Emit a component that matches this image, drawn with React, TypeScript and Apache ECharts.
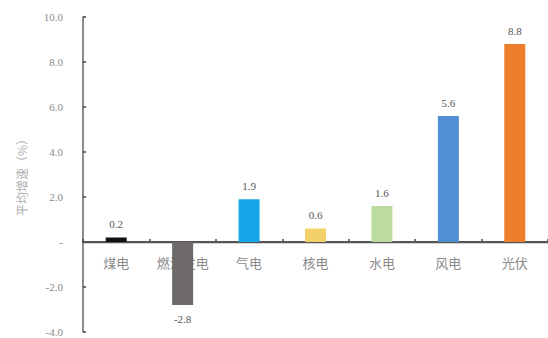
import React, { useEffect, useRef } from "react";
import * as echarts from "echarts";

const categories = ["煤电", "燃油发电", "气电", "核电", "水电", "风电", "光伏"];
const values = [0.2, -2.8, 1.9, 0.6, 1.6, 5.6, 8.8];
const barColors = ["#111111", "#6e6a6a", "#14a6e6", "#f3d068", "#bcdba0", "#4f8fd2", "#ee7d2c"];
const yAxisName = "平均增速（%）";
const yMin = -4;
const yMax = 10;
const yInterval = 2;
const zeroBand = [-0.05, 0.05];

const W = 548;
const H = 338;
const GRID = { left: 83, right: 0, top: 17, bottom: 6 };

export default function App() {
  const ref = useRef<HTMLDivElement>(null);
  useEffect(() => {
    if (!ref.current) return;
    const chart = echarts.init(ref.current, undefined, { renderer: "svg" });
    const plotH = H - GRID.top - GRID.bottom;
    const zeroOffset = -(plotH * (0 - yMin)) / (yMax - yMin);
    chart.setOption({
      animation: false,
      backgroundColor: "#ffffff",
      grid: { ...GRID, containLabel: false, outerBoundsMode: "none" },
      xAxis: {
        type: "category",
        data: categories,
        position: "bottom",
        offset: zeroOffset,
        axisLine: { show: true, onZero: false, lineStyle: { color: "#444", width: 2 } },
        axisTick: { show: true, inside: true, length: 3, lineStyle: { color: "#444", width: 1.5 } },
        axisLabel: {
          interval: 0,
          margin: 14,
          color: "#8a8a8a",
          fontSize: 13,
          fontFamily: "Noto Sans CJK SC",
        },
      },
      yAxis: {
        type: "value",
        min: yMin,
        max: yMax,
        interval: yInterval,
        name: yAxisName,
        nameLocation: "middle",
        nameGap: 56,
        nameTextStyle: { color: "#b0b0b0", fontSize: 12, fontFamily: "Noto Sans CJK SC" },
        axisLine: { show: true, onZero: false, lineStyle: { color: "#666", width: 1.5 } },
        axisTick: { show: true, inside: true, length: 3, lineStyle: { color: "#444", width: 1.5 } },
        splitLine: { show: false },
        axisLabel: {
          margin: 20,
          color: "#8a8a8a",
          fontSize: 11,
          fontFamily: "Liberation Serif",
          formatter: (v: number) => (v === 0 ? "-" : v.toFixed(1)),
        },
      },
      series: [
        {
          type: "bar",
          barWidth: 21,
          z: 5,
          clip: false,
          data: values.map((v, i) => ({ value: v, itemStyle: { color: barColors[i] } })),
          label: {
            show: true,
            position: "outside",
            distance: 8,
            color: "#555",
            fontSize: 11,
            fontFamily: "Liberation Serif",
            formatter: (p: any) => Number(p.value).toFixed(1),
          },
          markArea: {
            silent: true,
            label: { show: false },
            itemStyle: { color: "#555555", opacity: 1, borderWidth: 0 },
            data: [[{ yAxis: zeroBand[0], x: GRID.left }, { yAxis: zeroBand[1], x: W }]],
          },
        },
      ],
    });
    return () => chart.dispose();
  }, []);
  return (
    <div
      ref={ref}
      style={{ position: "fixed", left: 0, top: 0, width: W, height: H, background: "#fff" }}
    />
  );
}
